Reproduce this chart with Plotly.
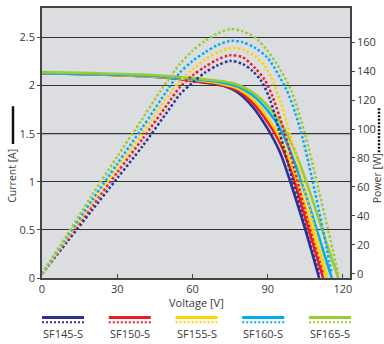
import plotly.graph_objects as go

# ---------------- data ----------------
SERIES = ["SF145-S", "SF150-S", "SF155-S", "SF160-S", "SF165-S"]
COLORS = ["#2e3192", "#ed1c24", "#ffd200", "#00aeef", "#99cc33"]

# current curves (I-V)
V_I_145 = [0, 20, 40, 55, 65, 72, 78, 84, 90, 95, 100, 105, 110.5]
I_145 = [2.13, 2.12, 2.10, 2.07, 2.03, 2.0, 1.93, 1.78, 1.55, 1.30, 0.92, 0.50, 0]
V_I_150 = [0, 20, 40, 55, 65, 72, 78, 84, 90, 95, 100, 105, 112.1]
I_150 = [2.13, 2.12, 2.10, 2.07, 2.035, 2.005, 1.95, 1.82, 1.62, 1.40, 1.06, 0.62, 0]
V_I_155 = [0, 20, 40, 55, 65, 72, 78, 84, 90, 95, 100, 105, 108, 113.7]
I_155 = [2.13, 2.12, 2.10, 2.075, 2.045, 2.015, 1.97, 1.86, 1.67, 1.45, 1.14, 0.74, 0.48, 0]
V_I_160 = [0, 20, 40, 55, 65, 72, 78, 84, 90, 95, 100, 105, 110, 115.5]
I_160 = [2.13, 2.12, 2.105, 2.08, 2.055, 2.03, 1.99, 1.90, 1.74, 1.55, 1.25, 0.88, 0.46, 0]
V_I_165 = [0, 20, 40, 55, 65, 72, 78, 84, 90, 95, 100, 105, 110, 114, 118.1]
I_165 = [2.14, 2.13, 2.115, 2.09, 2.065, 2.045, 2.01, 1.93, 1.79, 1.62, 1.37, 1.03, 0.64, 0.32, 0]

# power curves (P-V)
V_P_145 = [0, 10, 20, 30, 40, 50, 55, 60, 65, 70, 75, 80, 84, 87.5, 91, 94.8, 100, 105, 110.5]
P_145 = [0, 22, 44, 66, 88, 112, 124, 132, 139, 144, 147, 145, 140, 133, 120, 97, 64, 32, 0]
V_P_150 = [0, 10, 20, 30, 40, 50, 55, 60, 65, 70, 75, 80, 85, 88.8, 92, 96.8, 101, 106, 112.1]
P_150 = [0, 23.5, 47, 70, 93, 117, 129, 137, 143, 148, 151, 149.5, 142, 134, 122, 97, 70, 36, 0]
V_P_155 = [0, 10, 20, 30, 40, 50, 55, 60, 65, 70, 75.5, 80, 85, 89.5, 94, 98.8, 103, 108, 113.7]
P_155 = [0, 24.5, 49, 73, 97, 122, 133, 141, 148, 153, 156, 155, 150, 142, 124, 97, 70, 36, 0]
V_P_160 = [0, 10, 20, 30, 40, 50, 55, 60, 65, 70, 75.5, 80, 85, 90, 97.5, 101, 104, 107.5, 112.1, 115.5]
P_160 = [0, 25.5, 51, 76, 101, 127, 139, 147, 153, 158, 161, 160, 156, 149, 127, 111, 93, 67, 30, 0]
V_P_165 = [0, 10, 20, 30, 40, 47.5, 55, 60, 65, 70, 75, 80, 85, 89.5, 95, 99.5, 104.8, 109.5, 114.1, 118.1]
P_165 = [0, 27, 54.5, 81, 107, 127, 145, 154, 161, 166, 169, 167.5, 163, 155, 141, 126, 97, 64, 30, 0]

V_I = [V_I_145, V_I_150, V_I_155, V_I_160, V_I_165]
I_ALL = [I_145, I_150, I_155, I_160, I_165]
V_P = [V_P_145, V_P_150, V_P_155, V_P_160, V_P_165]
P_ALL = [P_145, P_150, P_155, P_160, P_165]

X_TICKS = [0, 30, 60, 90, 120]
I_TICKS = [0, 0.5, 1, 1.5, 2, 2.5]
I_TICK_TEXT = ["0", "0.5", "1", "1.5", "2", "2.5"]
P_TICKS = [0, 20, 40, 60, 80, 100, 120, 140, 160]

# ---------------- layout helpers ----------------
W, H = 384, 344
PL, PR, PT, PB = 42, 350, 6, 278


def px(x):
    return (x - PL) / (PR - PL)


def py(y):
    return (PB - y) / (PB - PT)


TXT = "#3a3a3a"
FONT = "Open Sans"

fig = go.Figure()

for i in range(5):
    fig.add_trace(go.Scatter(
        x=V_P[i], y=P_ALL[i], yaxis="y2", mode="lines",
        line=dict(color=COLORS[i], width=2.5, dash="2.5px,2.2px", shape="spline", smoothing=0.8),
        showlegend=False, hoverinfo="skip"))

for i in range(5):
    fig.add_trace(go.Scatter(
        x=V_I[i], y=I_ALL[i], yaxis="y", mode="lines",
        line=dict(color=COLORS[i], width=2.6, shape="spline", smoothing=0.8),
        showlegend=False, hoverinfo="skip"))

shapes = []
annotations = []

# gray 1.5 A gridline
shapes.append(dict(type="line", xref="paper", yref="y", x0=0, x1=1,
                   y0=I_TICKS[3], y1=I_TICKS[3], line=dict(color="#8a8a8a", width=1.5), layer="below"))

# legend below the chart
for i in range(5):
    cx = 63 + 66.75 * i
    shapes.append(dict(type="line", xref="paper", yref="paper",
                       x0=px(cx - 21), x1=px(cx + 21), y0=py(317.7), y1=py(317.7),
                       line=dict(color=COLORS[i], width=3)))
    shapes.append(dict(type="line", xref="paper", yref="paper",
                       x0=px(cx - 21), x1=px(cx + 21), y0=py(322.7), y1=py(322.7),
                       line=dict(color=COLORS[i], width=2, dash="2px,2px")))
    annotations.append(dict(text=SERIES[i], xref="paper", yref="paper",
                            x=px(cx), y=py(334), showarrow=False,
                            xanchor="center", yanchor="middle",
                            font=dict(family=FONT, size=11, color=TXT)))

# axis title key marks
shapes.append(dict(type="line", xref="paper", yref="paper",
                   x0=px(13), x1=px(13), y0=py(105), y1=py(143),
                   line=dict(color="#111111", width=2.5)))
shapes.append(dict(type="line", xref="paper", yref="paper",
                   x0=px(379), x1=px(379), y0=py(107), y1=py(152),
                   line=dict(color="#111111", width=2.5, dash="2px,1.5px")))

annotations.append(dict(text="Current [A]", xref="paper", yref="paper",
                        x=px(12), y=py(175), textangle=-90, showarrow=False,
                        xanchor="center", yanchor="middle",
                        font=dict(family=FONT, size=10.5, color=TXT)))
annotations.append(dict(text="Power [W]", xref="paper", yref="paper",
                        x=px(376.5), y=py(178), textangle=-90, showarrow=False,
                        xanchor="center", yanchor="middle",
                        font=dict(family=FONT, size=10.5, color=TXT)))
annotations.append(dict(text="Voltage [V]", xref="paper", yref="paper",
                        x=px(196.5), y=py(303), showarrow=False,
                        xanchor="center", yanchor="middle",
                        font=dict(family=FONT, size=11, color=TXT)))

fig.update_layout(
    width=W, height=H,
    margin=dict(l=PL, r=W - PR, t=PT, b=H - PB),
    paper_bgcolor="white",
    plot_bgcolor="#dcdde0",
    font=dict(family=FONT, size=11, color=TXT),
    showlegend=False,
    shapes=shapes,
    annotations=annotations,
    xaxis=dict(range=[0, 122.8], tickvals=X_TICKS, ticks="inside", ticklen=4,
               tickcolor="#444", showgrid=False, zeroline=False,
               showline=True, linecolor="#444", linewidth=1.5, mirror=True,
               tickfont=dict(size=11, color=TXT)),
    yaxis=dict(range=[0, 2.807], tickvals=I_TICKS, ticktext=I_TICK_TEXT,
               ticks="outside", ticklen=3, tickcolor="#444",
               showgrid=True, gridcolor="#333333", gridwidth=1.2, zeroline=False,
               showline=True, linecolor="#444", linewidth=1.5,
               tickfont=dict(size=11, color=TXT)),
    yaxis2=dict(range=[-2.9, 183.6], tickvals=P_TICKS, overlaying="y", side="right",
                ticks="outside", ticklen=3, tickcolor="#444",
                showgrid=False, zeroline=False,
                showline=True, linecolor="#444", linewidth=1.5,
                tickfont=dict(size=11, color=TXT)),
)

fig.write_html("out.html", config={"displayModeBar": False},
               post_script="document.body.style.margin='0';document.body.style.overflow='hidden';")
